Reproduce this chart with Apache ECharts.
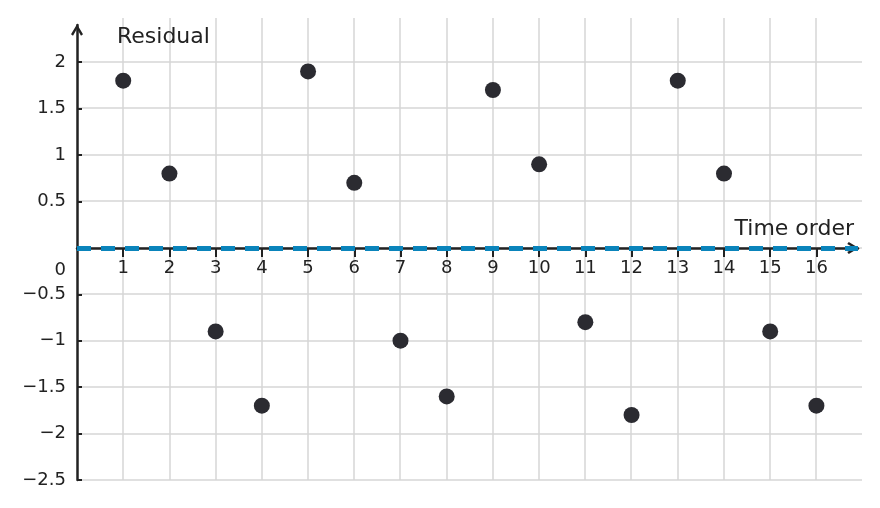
<!DOCTYPE html>
<html>
<head>
<meta charset="utf-8">
<script src="https://cdn.jsdelivr.net/npm/echarts@6/dist/echarts.min.js"></script>
<style>
    html, body { margin: 0; padding: 0; background: #fff; }
    #chart { width: 880px; height: 508px; }
</style>
</head>
<body>
<div id="chart"></div>
<script>
// data
const timeOrder = [1, 2, 3, 4, 5, 6, 7, 8, 9, 10, 11, 12, 13, 14, 15, 16]
const residuals = [1.8, 0.8, -0.9, -1.7, 1.9, 0.7, -1.0, -1.6, 1.7, 0.9, -0.8, -1.8, 1.8, 0.8, -0.9, -1.7]
const xTicks = [1, 2, 3, 4, 5, 6, 7, 8, 9, 10, 11, 12, 13, 14, 15, 16]
const yTicks = [-2.5, -2, -1.5, -1, -0.5, 0, 0.5, 1, 1.5, 2]

const chart = echarts.init(document.getElementById('chart'))

const points = timeOrder.map((t, i) => [t, residuals[i]])

// minus sign like the reference, 0 pushed below the x axis
function fmtY(v) {
    if (v === 0) return '{z|0}'
    return v < 0 ? '\u2212' + Math.abs(v) : String(v)
}

const axisColor = '#222'
const gridColor = '#d6d6d6'
// open chevron arrow head (pointing up, rotated by the axis)
const chevron = 'path://M6,0 L12,10 L10,11.5 L6,4.5 L2,11.5 L0,10 Z'

const option = {
    animation: false,
    textStyle: { fontFamily: 'DejaVu Sans' },
    grid: [
        // background grid lines
        { left: 77, right: 18, top: 18, bottom: 28 },
        // axes + data
        { left: 77, right: 22, top: 25, bottom: 28 }
    ],
    xAxis: [{
        gridIndex: 0,
        type: 'value',
        min: 0,
        max: 17,
        interval: 1,
        axisLine: { show: false },
        axisTick: { show: false },
        axisLabel: { show: false },
        splitLine: {
            show: true,
            showMinLine: false,
            showMaxLine: false,
            lineStyle: { color: gridColor, width: 1.5 }
        }
    }, {
        gridIndex: 1,
        type: 'value',
        min: 0,
        max: 16.9,
        interval: 1,
        position: 'bottom',
        offset: -232,
        name: 'Time order',
        nameLocation: 'end',
        nameGap: -4,
        nameTextStyle: {
            fontSize: 22,
            color: axisColor,
            align: 'right',
            verticalAlign: 'bottom',
            padding: [0, 0, 8, 0]
        },
        axisLine: {
            onZero: false,
            symbol: ['none', chevron],
            symbolSize: [12, 12],
            symbolOffset: [0, -5],
            lineStyle: { color: axisColor, width: 2.5 }
        },
        axisTick: {
            customValues: xTicks,
            length: 6,
            lineStyle: { color: axisColor, width: 2 }
        },
        axisLabel: {
            customValues: xTicks,
            fontSize: 18,
            color: axisColor,
            margin: 11
        },
        splitLine: { show: false }
    }, {
        // upper half of the x ticks
        gridIndex: 1,
        type: 'value',
        min: 0,
        max: 16.9,
        interval: 1,
        position: 'bottom',
        offset: -232,
        axisLine: { show: false },
        axisTick: {
            inside: true,
            customValues: xTicks,
            length: 6,
            lineStyle: { color: axisColor, width: 2 }
        },
        axisLabel: { show: false },
        splitLine: { show: false }
    }],
    yAxis: [{
        gridIndex: 0,
        type: 'value',
        min: -2.5,
        max: 2.47,
        interval: 0.5,
        axisLine: { show: false },
        axisTick: { show: false },
        axisLabel: { show: false },
        splitLine: {
            show: true,
            showMaxLine: false,
            lineStyle: { color: gridColor, width: 1.5 }
        }
    }, {
        gridIndex: 1,
        type: 'value',
        min: -2.5,
        max: 2.4,
        interval: 0.5,
        name: 'Residual',
        nameLocation: 'end',
        nameGap: -23,
        nameTextStyle: {
            fontSize: 22,
            color: axisColor,
            align: 'left',
            verticalAlign: 'bottom',
            padding: [0, 0, 0, 40]
        },
        axisLine: {
            symbol: ['none', chevron],
            symbolSize: [12, 12],
            symbolOffset: [0, -5],
            lineStyle: { color: axisColor, width: 2.5 }
        },
        axisTick: {
            inside: true,
            customValues: yTicks,
            length: 5,
            lineStyle: { color: axisColor, width: 2 }
        },
        axisLabel: {
            customValues: yTicks,
            fontSize: 18,
            color: axisColor,
            margin: 11,
            formatter: fmtY,
            rich: {
                z: { fontSize: 18, color: axisColor, padding: [44, 0, 0, 0] }
            }
        },
        splitLine: { show: false }
    }],
    series: [{
        type: 'scatter',
        xAxisIndex: 1,
        yAxisIndex: 1,
        data: points,
        symbolSize: 16,
        itemStyle: { color: '#2b2b31', opacity: 1 },
        z: 5,
        markLine: {
            silent: true,
            symbol: 'none',
            label: { show: false },
            lineStyle: { color: '#0a84bb', width: 5, type: [14, 10], opacity: 1 },
            data: [{ yAxis: 0 }]
        }
    }]
}

chart.setOption(option)
</script>
</body>
</html>
